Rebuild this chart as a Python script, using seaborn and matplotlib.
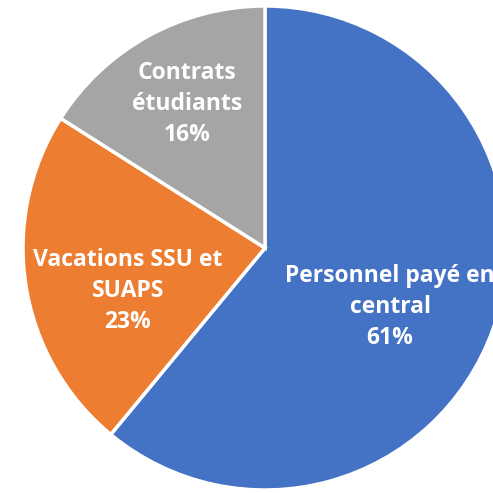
import matplotlib
matplotlib.use("Agg")
import matplotlib.pyplot as plt
import seaborn as sns

categories = ["Personnel payé en\ncentral", "Vacations SSU et\nSUAPS", "Contrats\nétudiants"]
values = [61, 23, 16]
colors = ["#4472C4", "#ED7D31", "#A5A5A5"]

sns.set_theme(style="white")
plt.rcParams['font.family'] = ['Open Sans', 'DejaVu Sans']

fig = plt.figure(figsize=(4.93, 4.93), dpi=100)
ax = fig.add_axes([0, 0, 1, 1])
R = 242.0
cx, cy = 265.0, 248.0
wedges, _ = ax.pie(values, colors=sns.color_palette(colors), startangle=90, counterclock=False,
                   radius=1, wedgeprops=dict(edgecolor="white", linewidth=2.5))
ax.set_xlim(-cx / R, (493 - cx) / R)
ax.set_ylim(-(493 - cy) / R, cy / R)
ax.set_aspect("equal")
ax.axis("off")

label_pos = [(390, 307), (128, 291), (187, 104)]
for (px, py), cat, v in zip(label_pos, categories, values):
    ax.text((px - cx) / R, (cy - py) / R, f"{cat}\n{v}%", ha="center", va="center",
            color="white", fontsize=16.5, fontweight="bold", linespacing=1.4)

fig.savefig("out.png", dpi=100)
